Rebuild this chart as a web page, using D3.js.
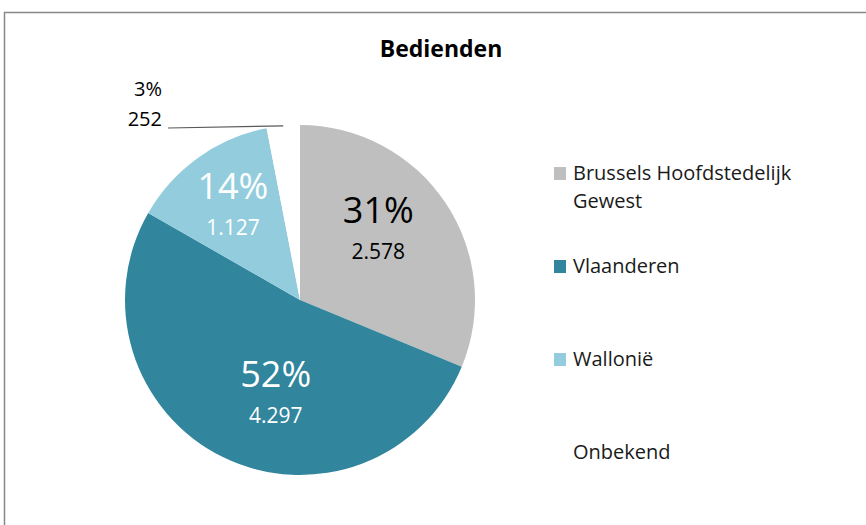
<!DOCTYPE html>
<html>
<head>
<meta charset="utf-8">
<script src="https://cdn.jsdelivr.net/npm/d3@7"></script>
<style>
  body { margin: 0; background: #fff; }
  text { font-family: "Open Sans", "Noto Sans", sans-serif; }
</style>
</head>
<body>
<div id="chart"></div>
<script>
var categories = ['Brussels Hoofdstedelijk Gewest', 'Vlaanderen', 'Wallonië', 'Onbekend'];
var values = [2578, 4297, 1127, 252];
var colors = ['#bfbfbf', '#31859c', '#93cddd', '#ffffff'];
var labelColors = ['#000', '#fff', '#fff', '#000'];
var title = 'Bedienden';

var w = 866, h = 525;
var cx = 300, cy = 300, r = 175;
// small nudges so the inside labels sit where the original placed them
var labelShift = [[-9, 0], [22, 12], [-6, 3], [0, 0]];

var svg = d3.select('#chart').append('svg')
  .attr('width', w)
  .attr('height', h);

// chart frame
svg.append('rect')
  .attr('x', 4.5).attr('y', 12.5)
  .attr('width', 900).attr('height', 600)
  .attr('fill', 'none')
  .attr('stroke', '#878787')
  .attr('stroke-width', 1.5);

svg.append('text')
  .attr('x', 441).attr('y', 57)
  .attr('text-anchor', 'middle')
  .attr('font-size', 23)
  .attr('font-weight', 'bold')
  .text(title);

var data = categories.map(function(c, i) { return {name: c, value: values[i], i: i}; });
var total = d3.sum(values);
var pct = d3.format('.0%');
var num = function(v) { return d3.format(',')(v).replace(/,/g, '.'); };

var pie = d3.pie().sort(null).value(function(d) { return d.value; });
var arcs = pie(data);
var arc = d3.arc().innerRadius(0).outerRadius(r);
var labelArc = d3.arc().innerRadius(r * 0.6).outerRadius(r * 0.6);

var g = svg.append('g').attr('transform', 'translate(' + [cx, cy].join(',') + ')');

g.selectAll('path').data(arcs).enter().append('path')
  .attr('d', arc)
  .attr('fill', function(d) { return colors[d.data.i]; });

// inside labels for the big slices
var inside = arcs.filter(function(d) { return d.data.value / total > 0.05; });
var lab = g.selectAll('g.lab').data(inside).enter().append('g')
  .attr('class', 'lab')
  .attr('transform', function(d) {
    var c = labelArc.centroid(d), s = labelShift[d.data.i];
    return 'translate(' + [c[0] + s[0], c[1] + s[1]].join(',') + ')';
  });
lab.append('text')
  .attr('text-anchor', 'middle')
  .attr('y', -19)
  .attr('font-size', 36)
  .attr('fill', function(d) { return labelColors[d.data.i]; })
  .text(function(d) { return pct(d.data.value / total); });
lab.append('text')
  .attr('text-anchor', 'middle')
  .attr('y', 17)
  .attr('font-size', 21)
  .attr('fill', function(d) { return labelColors[d.data.i]; })
  .text(function(d) { return num(d.data.value); });

// outside label with leader line for the small slice
var outside = arcs.filter(function(d) { return d.data.value / total <= 0.05; });
outside.forEach(function(d) {
  var mid = (d.startAngle + d.endAngle) / 2;
  var ex = r * Math.sin(mid), ey = -r * Math.cos(mid);
  var lx = -132, ly = -172;
  g.append('line')
    .attr('x1', lx).attr('y1', ly)
    .attr('x2', ex).attr('y2', ey)
    .attr('stroke', '#595959')
    .attr('stroke-width', 1.2);
  g.append('text')
    .attr('x', lx - 6).attr('y', ly - 32)
    .attr('text-anchor', 'end')
    .attr('font-size', 20)
    .text(pct(d.data.value / total));
  g.append('text')
    .attr('x', lx - 6).attr('y', ly - 2)
    .attr('text-anchor', 'end')
    .attr('font-size', 20)
    .text(num(d.data.value));
});

// legend
var legend = svg.append('g').attr('transform', 'translate(554,0)');
var legendY = [173, 266, 359, 452];
var items = legend.selectAll('g').data(data).enter().append('g')
  .attr('transform', function(d) { return 'translate(0,' + legendY[d.i] + ')'; });
items.append('rect')
  .attr('x', 0).attr('y', -6)
  .attr('width', 12).attr('height', 13)
  .attr('fill', function(d) { return colors[d.i]; });
items.append('text')
  .attr('x', 19).attr('y', 7)
  .attr('font-size', 20)
  .attr('fill', '#1a1a1a')
  .each(function(d) {
    var t = d3.select(this);
    var words = d.name.split(' ');
    if (words.length > 2) {
      t.append('tspan').attr('x', 19).text(words.slice(0, 2).join(' '));
      t.append('tspan').attr('x', 19).attr('dy', 28).text(words.slice(2).join(' '));
    } else {
      t.text(d.name);
    }
  });
</script>
</body>
</html>
